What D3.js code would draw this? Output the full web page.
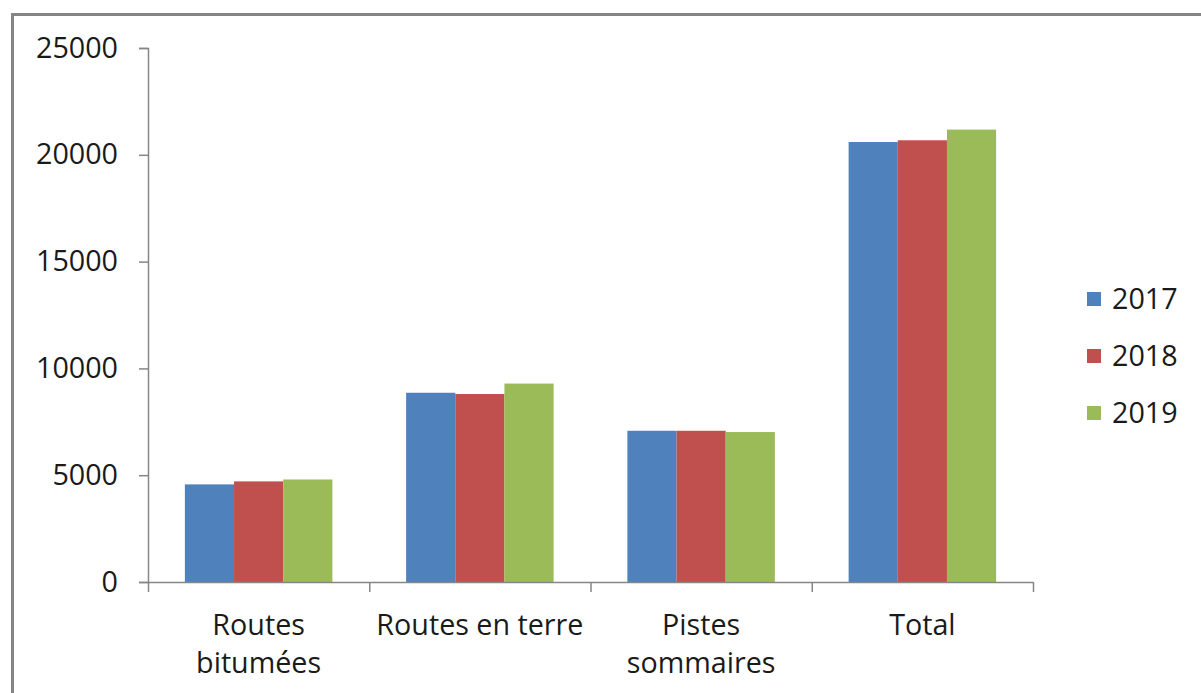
<!DOCTYPE html>
<html>
<head>
<meta charset="utf-8">
<script src="https://cdn.jsdelivr.net/npm/d3@7"></script>
<style>
  html, body { margin: 0; padding: 0; background: #fff; }
  svg { display: block; font-family: "Open Sans", "Noto Sans", sans-serif; }
</style>
</head>
<body>
<svg id="chart" width="1201" height="693"></svg>
<script>
const categories = [["Routes", "bitumées"], ["Routes en terre"], ["Pistes", "sommaires"], ["Total"]];
const years = ["2017", "2018", "2019"];
const values2017 = [4570, 8860, 7080, 20600];
const values2018 = [4710, 8800, 7080, 20680];
const values2019 = [4800, 9290, 7020, 21180];
const seriesValues = [values2017, values2018, values2019];
const colors = ["#4F81BD", "#C0504D", "#9BBB59"];
const yTicks = [0, 5000, 10000, 15000, 20000, 25000];

(function () {
const svg = d3.select("#chart");
const plotLeft = 148, plotRight = 1033, plotTop = 48, plotBottom = 582;
const fs = 28.7;

// outer frame
svg.append("rect")
  .attr("x", 12.5).attr("y", 14.5)
  .attr("width", 1300).attr("height", 800)
  .attr("fill", "none").attr("stroke", "#858585").attr("stroke-width", 3);

const catKeys = categories.map((c, i) => i);
const x0 = d3.scaleBand().domain(catKeys).range([plotLeft, plotRight]).padding(0);
const bw = x0.bandwidth() / 4.5;
const x1 = d3.scaleBand().domain(years).range([0.75 * bw, 3.75 * bw]).padding(0);
const y = d3.scaleLinear().domain([0, 25000]).range([plotBottom, plotTop]);

// bars
years.forEach((yr, si) => {
  svg.append("g").selectAll("rect")
    .data(seriesValues[si])
    .join("rect")
    .attr("x", (d, i) => x0(i) + x1(yr))
    .attr("width", x1.bandwidth())
    .attr("y", d => y(d))
    .attr("height", d => y(0) - y(d))
    .attr("fill", colors[si]);
});

// y axis
const yAxis = svg.append("g")
  .attr("transform", `translate(${plotLeft},0)`)
  .call(d3.axisLeft(y).tickValues(yTicks).tickSize(9).tickPadding(21).tickFormat(d3.format("d")));
yAxis.select(".domain").attr("stroke", "#868686").attr("stroke-width", 1.5);
yAxis.selectAll(".tick line").attr("stroke", "#868686").attr("stroke-width", 1.5);
yAxis.selectAll(".tick text")
  .attr("font-size", fs).attr("fill", "#1a1a1a")
  .attr("font-family", "'Open Sans', sans-serif");

// x axis
const xAxisScale = d3.scaleLinear().domain([0, 4]).range([plotLeft, plotRight]);
const xAxis = svg.append("g")
  .attr("transform", `translate(0,${plotBottom})`)
  .call(d3.axisBottom(xAxisScale).tickValues([0, 1, 2, 3, 4]).tickSize(10).tickSizeOuter(0).tickFormat(""));
xAxis.select(".domain").attr("stroke", "#868686").attr("stroke-width", 1.5);
xAxis.selectAll(".tick line").attr("stroke", "#868686").attr("stroke-width", 1.5);

// category labels
const lab = svg.append("g");
categories.forEach((lines, i) => {
  const cx = x0(i) + x0.bandwidth() / 2;
  const t = lab.append("text")
    .attr("x", cx).attr("y", 635)
    .attr("text-anchor", "middle")
    .attr("font-size", fs).attr("fill", "#1a1a1a");
  lines.forEach((ln, k) => {
    t.append("tspan").attr("x", cx).attr("dy", k === 0 ? 0 : 38).text(ln);
  });
});

// legend
const legend = svg.append("g");
years.forEach((yr, i) => {
  const ly = 299 + i * 57;
  legend.append("rect")
    .attr("x", 1087).attr("y", ly - 7).attr("width", 14).attr("height", 14)
    .attr("fill", colors[i]);
  legend.append("text")
    .attr("x", 1112).attr("y", ly).attr("dy", "0.35em")
    .attr("font-size", fs).attr("fill", "#1a1a1a").text(yr);
});
})();
</script>
</body>
</html>
